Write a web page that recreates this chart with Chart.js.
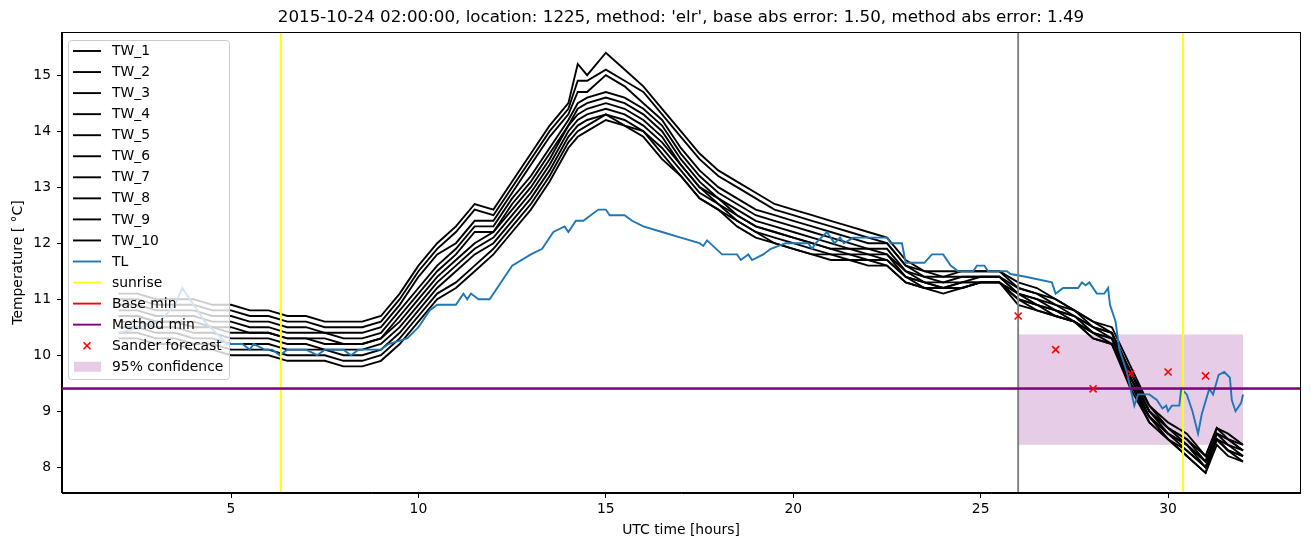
<!DOCTYPE html>
<html>
<head>
<meta charset="utf-8">
<script src="https://cdn.jsdelivr.net/npm/chart.js@4.4.0/dist/chart.umd.min.js"></script>
<style>
  html, body { margin: 0; padding: 0; background: #fff; }
  #wrap { width: 1311px; height: 547px; }
</style>
</head>
<body>
<div id="wrap"><canvas id="chart" width="1311" height="547"></canvas></div>
<script>
// ---- data ----
const twHours = [2, 2.5, 3, 3.5, 4, 4.5, 5, 5.5, 6, 6.5,
  7, 7.5, 8, 8.5, 9, 9.5, 10, 10.5, 11, 11.5,
  12, 12.5, 13, 13.5, 14, 14.25, 14.5, 15, 15.5, 16,
  16.5, 17, 17.5, 18, 18.5, 19, 19.5, 20, 20.5, 21,
  21.5, 22, 22.5, 23, 23.5, 24, 24.5, 25, 25.5, 26,
  26.5, 27, 27.5, 28, 28.5, 29, 29.5, 30, 30.5, 31,
  31.3, 31.6, 32];

const tw1 = [11.1, 11.1, 11.0, 11.0, 11.0, 10.9, 10.9, 10.8, 10.8, 10.7,
  10.7, 10.6, 10.6, 10.6, 10.7, 11.1, 11.6, 12.0, 12.3, 12.7,
  12.6, 13.1, 13.6, 14.1, 14.5, 15.2, 15.0, 15.4, 15.1, 14.8,
  14.4, 14.0, 13.6, 13.3, 13.1, 12.9, 12.7, 12.6, 12.5, 12.4,
  12.3, 12.2, 12.1, 11.7, 11.5, 11.5, 11.5, 11.5, 11.5, 11.3,
  11.2, 11.0, 10.8, 10.6, 10.5, 9.8, 9.1, 8.8, 8.6, 8.2,
  8.7, 8.6, 8.4];
const tw2 = [11.0, 11.0, 10.9, 10.9, 10.9, 10.8, 10.8, 10.7, 10.7, 10.6,
  10.6, 10.5, 10.5, 10.5, 10.6, 11.0, 11.5, 11.9, 12.2, 12.6,
  12.5, 13.0, 13.5, 14.0, 14.4, 14.9, 14.9, 15.1, 14.9, 14.7,
  14.3, 13.9, 13.5, 13.2, 13.0, 12.8, 12.6, 12.5, 12.4, 12.3,
  12.2, 12.1, 12.0, 11.6, 11.5, 11.4, 11.5, 11.5, 11.5, 11.2,
  11.1, 11.0, 10.8, 10.6, 10.4, 9.7, 9.1, 8.7, 8.5, 8.2,
  8.7, 8.5, 8.4];
const tw3 = [10.9, 10.9, 10.8, 10.8, 10.8, 10.7, 10.7, 10.6, 10.6, 10.5,
  10.5, 10.4, 10.4, 10.4, 10.5, 10.9, 11.4, 11.8, 12.0, 12.4,
  12.4, 12.9, 13.4, 13.9, 14.3, 14.7, 14.7, 15.0, 14.8, 14.5,
  14.2, 13.7, 13.3, 13.0, 12.8, 12.6, 12.5, 12.4, 12.3, 12.2,
  12.1, 12.0, 12.0, 11.6, 11.4, 11.4, 11.4, 11.4, 11.4, 11.2,
  11.1, 10.9, 10.8, 10.5, 10.4, 9.7, 9.0, 8.7, 8.5, 8.1,
  8.6, 8.5, 8.3];
const tw4 = [10.8, 10.8, 10.7, 10.7, 10.7, 10.6, 10.6, 10.5, 10.5, 10.4,
  10.4, 10.4, 10.3, 10.3, 10.4, 10.8, 11.2, 11.6, 11.9, 12.3,
  12.3, 12.8, 13.2, 13.7, 14.2, 14.5, 14.6, 14.7, 14.6, 14.4,
  14.1, 13.6, 13.2, 12.9, 12.7, 12.5, 12.4, 12.3, 12.2, 12.1,
  12.0, 11.9, 11.9, 11.5, 11.4, 11.3, 11.4, 11.4, 11.4, 11.1,
  11.0, 10.9, 10.7, 10.5, 10.4, 9.6, 9.0, 8.7, 8.4, 8.1,
  8.6, 8.5, 8.3];
const tw5 = [10.7, 10.7, 10.6, 10.6, 10.6, 10.5, 10.5, 10.4, 10.4, 10.3,
  10.3, 10.3, 10.2, 10.2, 10.3, 10.7, 11.1, 11.5, 11.8, 12.2,
  12.2, 12.7, 13.1, 13.6, 14.1, 14.4, 14.5, 14.6, 14.5, 14.3,
  14.0, 13.5, 13.1, 12.8, 12.6, 12.4, 12.3, 12.2, 12.1, 12.0,
  11.9, 11.9, 11.8, 11.5, 11.3, 11.3, 11.3, 11.4, 11.4, 11.1,
  11.0, 10.8, 10.7, 10.5, 10.3, 9.6, 9.0, 8.6, 8.4, 8.1,
  8.6, 8.4, 8.3];
const tw6 = [10.7, 10.7, 10.6, 10.6, 10.5, 10.5, 10.4, 10.4, 10.4, 10.3,
  10.3, 10.2, 10.2, 10.2, 10.3, 10.6, 11.0, 11.4, 11.7, 12.0,
  12.2, 12.6, 13.0, 13.5, 14.1, 14.3, 14.4, 14.5, 14.4, 14.2,
  13.9, 13.4, 13.0, 12.8, 12.5, 12.3, 12.2, 12.1, 12.0, 11.9,
  11.9, 11.8, 11.8, 11.4, 11.3, 11.2, 11.3, 11.3, 11.3, 11.1,
  10.9, 10.8, 10.7, 10.4, 10.3, 9.6, 8.9, 8.6, 8.4, 8.0,
  8.5, 8.4, 8.2];
const tw7 = [10.6, 10.6, 10.5, 10.5, 10.4, 10.4, 10.3, 10.3, 10.3, 10.2,
  10.2, 10.1, 10.1, 10.1, 10.2, 10.5, 10.9, 11.3, 11.6, 11.9,
  12.1, 12.5, 12.9, 13.4, 14.0, 14.2, 14.3, 14.4, 14.3, 14.1,
  13.8, 13.4, 13.0, 12.7, 12.5, 12.3, 12.2, 12.1, 12.0, 11.9,
  11.8, 11.8, 11.7, 11.4, 11.3, 11.2, 11.3, 11.3, 11.3, 11.0,
  10.9, 10.8, 10.6, 10.4, 10.3, 9.5, 8.9, 8.6, 8.3, 8.0,
  8.5, 8.3, 8.2];
const tw8 = [10.5, 10.5, 10.4, 10.4, 10.3, 10.3, 10.2, 10.2, 10.2, 10.1,
  10.1, 10.1, 10.0, 10.0, 10.1, 10.4, 10.8, 11.2, 11.5, 11.8,
  12.0, 12.4, 12.8, 13.3, 13.9, 14.1, 14.2, 14.3, 14.2, 14.0,
  13.7, 13.3, 12.9, 12.7, 12.4, 12.2, 12.1, 12.0, 11.9, 11.8,
  11.8, 11.7, 11.7, 11.4, 11.2, 11.2, 11.2, 11.3, 11.3, 11.0,
  10.9, 10.7, 10.6, 10.4, 10.2, 9.5, 8.9, 8.5, 8.3, 8.0,
  8.5, 8.3, 8.2];
const tw9 = [10.4, 10.4, 10.3, 10.3, 10.2, 10.2, 10.1, 10.1, 10.1, 10.0,
  10.0, 10.0, 9.9, 9.9, 10.0, 10.3, 10.7, 11.1, 11.3, 11.6,
  11.9, 12.3, 12.7, 13.2, 13.8, 14.0, 14.1, 14.3, 14.1, 14.0,
  13.6, 13.2, 12.8, 12.6, 12.4, 12.2, 12.0, 11.9, 11.8, 11.8,
  11.7, 11.7, 11.6, 11.3, 11.2, 11.2, 11.2, 11.3, 11.3, 11.0,
  10.8, 10.7, 10.6, 10.3, 10.2, 9.5, 8.8, 8.5, 8.2, 7.9,
  8.5, 8.3, 8.1];
const tw10 = [10.3, 10.3, 10.2, 10.2, 10.1, 10.1, 10.0, 10.0, 10.0, 9.9,
  9.9, 9.9, 9.8, 9.8, 9.9, 10.2, 10.6, 11.0, 11.2, 11.5,
  11.8, 12.2, 12.6, 13.1, 13.7, 13.9, 14.0, 14.2, 14.1, 13.9,
  13.5, 13.2, 12.8, 12.6, 12.3, 12.1, 12.0, 11.9, 11.8, 11.7,
  11.7, 11.6, 11.6, 11.3, 11.2, 11.1, 11.2, 11.3, 11.3, 10.9,
  10.8, 10.7, 10.6, 10.3, 10.2, 9.4, 8.8, 8.5, 8.2, 7.9,
  8.4, 8.2, 8.1];
const twSeries = [tw1, tw2, tw3, tw4, tw5, tw6, tw7, tw8, tw9, tw10];
const twLabels = ['TW_1', 'TW_2', 'TW_3', 'TW_4', 'TW_5', 'TW_6', 'TW_7', 'TW_8', 'TW_9', 'TW_10'];

const tlHours = [2.0, 2.6, 3.1, 3.5, 3.7, 4.0, 4.3, 4.6, 4.9, 5.3,
  5.5, 5.6, 5.9, 6.1, 6.3, 6.5, 7.0, 7.3, 7.5, 8.0,
  8.2, 8.4, 9.0, 9.2, 9.7, 10.0, 10.3, 10.5, 11.0, 11.2,
  11.3, 11.4, 11.6, 11.9, 12.2, 12.5, 13.0, 13.3, 13.6, 13.9,
  14.0, 14.2, 14.4, 14.8, 15.0, 15.1, 15.4, 15.5, 15.7, 16.0,
  16.5, 17.0, 17.5, 17.6, 17.7, 18.1, 18.5, 18.6, 18.8, 18.9,
  19.2, 19.4, 19.8, 20.4, 20.5, 20.6, 20.9, 21.1, 21.25, 21.35,
  21.6, 22.5, 22.6, 22.9, 23.0, 23.5, 23.7, 24.0, 24.2, 24.4,
  24.8, 24.9, 25.1, 25.2, 25.7, 25.8, 26.2, 26.9, 27.0, 27.2,
  27.6, 27.7, 27.8, 27.9, 28.1, 28.3, 28.4, 28.45, 28.6, 28.7,
  28.9, 28.95, 29.1, 29.2, 29.5, 29.7, 29.85, 29.95, 30.0, 30.1,
  30.3, 30.35, 30.5, 30.65, 30.8, 30.9, 31.1, 31.2, 31.35, 31.5,
  31.65, 31.7, 31.8, 31.95, 32.0];
const tlTemps = [10.4, 10.5, 10.6, 10.9, 11.2, 10.9, 10.6, 10.4, 10.2, 10.2,
  10.1, 10.2, 10.1, 10.1, 10.0, 10.1, 10.1, 10.0, 10.1, 10.1,
  10.0, 10.1, 10.1, 10.2, 10.3, 10.5, 10.8, 10.9, 10.9, 11.1,
  11.0, 11.1, 11.0, 11.0, 11.3, 11.6, 11.8, 11.9, 12.2, 12.3,
  12.2, 12.4, 12.4, 12.6, 12.6, 12.5, 12.5, 12.5, 12.4, 12.3,
  12.2, 12.1, 12.0, 11.95, 12.05, 11.8, 11.8, 11.7, 11.8, 11.7,
  11.8, 11.9, 12.0, 12.0, 11.9, 12.0, 12.2, 12.0, 12.1, 12.0,
  12.1, 12.1, 12.0, 12.0, 11.65, 11.65, 11.8, 11.8, 11.6, 11.5,
  11.5, 11.6, 11.6, 11.5, 11.5, 11.45, 11.4, 11.3, 11.1, 11.2,
  11.2, 11.3, 11.25, 11.3, 11.1, 11.1, 11.2, 10.9, 10.6, 10.1,
  9.7, 9.55, 9.1, 9.3, 9.3, 9.2, 9.05, 9.1, 9.0, 9.1,
  9.1, 9.4, 9.3, 9.0, 8.6, 8.95, 9.4, 9.3, 9.65, 9.7,
  9.6, 9.2, 9.0, 9.15, 9.3];

const sanderHours = [26, 27, 28, 29, 30, 31];
const sanderTemps = [10.7, 10.1, 9.4, 9.67, 9.7, 9.63];

const sunriseHours = [6.33, 30.4];
const forecastHour = 26.0;
const baseMin = 9.41;
const methodMin = 9.4;
const bandHours = [26, 32];
const bandTemps = [8.4, 10.37];

const xTicks = [5, 10, 15, 20, 25, 30];
const yTicks = [8, 9, 10, 11, 12, 13, 14, 15];

const legendLabels = twLabels.concat(['TL', 'sunrise', 'Base min', 'Method min', 'Sander forecast', '95% confidence']);

const FONT = 'DejaVu Sans';
const FS = 13.9;
const BLUE = '#1f77b4';
const BAND = 'rgba(128, 0, 128, 0.2)';

// ---- datasets ----
const datasets = twSeries.map((vals, k) => ({
  label: twLabels[k],
  data: vals.map((v, i) => ({ x: twHours[i], y: v })),
  borderColor: '#000000',
  borderWidth: 1.9,
  pointRadius: 0,
  tension: 0,
  order: 2,
}));
datasets.push({
  label: 'TL',
  data: tlTemps.map((v, i) => ({ x: tlHours[i], y: v })),
  borderColor: BLUE,
  borderWidth: 1.9,
  pointRadius: 0,
  tension: 0,
  order: 1,
});
const tlIndex = datasets.length - 1;
datasets.push({
  label: 'Sander forecast',
  type: 'scatter',
  data: sanderTemps.map((v, i) => ({ x: sanderHours[i], y: v })),
  pointStyle: 'crossRot',
  pointRadius: 5,
  borderColor: 'red',
  borderWidth: 1.6,
  showLine: false,
  order: 0,
});

function roundedRect(ctx, x, y, w, h, r) {
  ctx.beginPath();
  ctx.moveTo(x + r, y);
  ctx.arcTo(x + w, y, x + w, y + h, r);
  ctx.arcTo(x + w, y + h, x, y + h, r);
  ctx.arcTo(x, y + h, x, y, r);
  ctx.arcTo(x, y, x + w, y, r);
  ctx.closePath();
}

const overlay = {
  id: 'overlay',
  beforeDatasetsDraw(chart) {
    const { ctx, chartArea, scales: { x, y } } = chart;
    ctx.save();
    ctx.beginPath();
    ctx.rect(chartArea.left, chartArea.top, chartArea.width, chartArea.height);
    ctx.clip();
    const x0 = x.getPixelForValue(bandHours[0]);
    const x1 = x.getPixelForValue(bandHours[1]);
    const y0 = y.getPixelForValue(bandTemps[1]);
    const y1 = y.getPixelForValue(bandTemps[0]);
    ctx.fillStyle = BAND;
    ctx.fillRect(x0, y0, x1 - x0, y1 - y0);
    ctx.restore();
  },
  afterDatasetDraw(chart, args) {
    if (args.index !== tlIndex) return;
    const { ctx, chartArea: a, scales: { x, y } } = chart;
    ctx.save();
    ctx.lineWidth = 1.9;
    const vline = (v, color) => {
      const px = x.getPixelForValue(v);
      ctx.strokeStyle = color;
      ctx.beginPath();
      ctx.moveTo(px, a.top);
      ctx.lineTo(px, a.bottom);
      ctx.stroke();
    };
    const hline = (v, color) => {
      const py = y.getPixelForValue(v);
      ctx.strokeStyle = color;
      ctx.beginPath();
      ctx.moveTo(a.left, py);
      ctx.lineTo(a.right, py);
      ctx.stroke();
    };
    vline(forecastHour, 'gray');
    sunriseHours.forEach(h => vline(h, 'yellow'));
    hline(baseMin, 'red');
    hline(methodMin, 'purple');
    ctx.restore();
  },
  afterDatasetsDraw(chart) {
    const { ctx, chartArea: a } = chart;
    ctx.save();
    ctx.strokeStyle = '#000';
    ctx.lineWidth = 1;
    ctx.strokeRect(Math.round(a.left) - 0.5, Math.round(a.top) + 0.5,
      Math.round(a.right) - Math.round(a.left) + 1, Math.round(a.bottom) - Math.round(a.top) - 1);
    ctx.restore();
  },
  afterDraw(chart) {
    const { ctx } = chart;
    ctx.save();
    roundedRect(ctx, 68.5, 40.5, 161, 339, 3);
    ctx.fillStyle = 'rgba(255,255,255,0.8)';
    ctx.fill();
    ctx.strokeStyle = '#cccccc';
    ctx.lineWidth = 1;
    ctx.stroke();
    ctx.font = FS + 'px "' + FONT + '"';
    ctx.textBaseline = 'middle';
    ctx.textAlign = 'left';
    legendLabels.forEach((label, i) => {
      const cy = 51 + i * 21.05;
      let color = '#000';
      if (label === 'TL') color = BLUE;
      if (label === 'sunrise') color = 'yellow';
      if (label === 'Base min') color = 'red';
      if (label === 'Method min') color = 'purple';
      if (label === 'Sander forecast') {
        ctx.strokeStyle = 'red';
        ctx.lineWidth = 1.6;
        ctx.beginPath();
        ctx.moveTo(83.5, cy - 3.5); ctx.lineTo(90.5, cy + 3.5);
        ctx.moveTo(90.5, cy - 3.5); ctx.lineTo(83.5, cy + 3.5);
        ctx.stroke();
      } else if (label === '95% confidence') {
        ctx.fillStyle = BAND;
        ctx.fillRect(74, cy - 5, 27, 10);
      } else {
        ctx.strokeStyle = color;
        ctx.lineWidth = 1.9;
        ctx.beginPath();
        ctx.moveTo(73, cy);
        ctx.lineTo(101, cy);
        ctx.stroke();
      }
      ctx.fillStyle = '#000';
      ctx.fillText(label, 112, cy + 0.5);
    });
    ctx.restore();
  },
};

new Chart(document.getElementById('chart'), {
  type: 'line',
  data: { datasets },
  options: {
    responsive: false,
    animation: false,
    events: [],
    devicePixelRatio: 1,
    layout: { padding: { left: 0, right: 11, top: 0, bottom: 0 } },
    plugins: {
      legend: { display: false },
      tooltip: { enabled: false },
      title: {
        display: true,
        fullSize: false,
        text: "2015-10-24 02:00:00, location: 1225, method: 'elr', base abs error: 1.50, method abs error: 1.49",
        color: '#000',
        font: { family: FONT, size: 16.7, weight: 'normal' },
        padding: { top: 8, bottom: 4 },
      },
    },
    scales: {
      x: {
        type: 'linear',
        min: 0.49,
        max: 33.52,
        afterBuildTicks: (axis) => { axis.ticks = xTicks.map(v => ({ value: v })); },
        afterFit: (scale) => { scale.height = 54; },
        grid: { drawOnChartArea: false, drawTicks: true, tickLength: 5, color: '#000' },
        border: { display: true, color: '#000', width: 1 },
        ticks: { color: '#000', font: { family: FONT, size: FS }, padding: 3, maxRotation: 0, autoSkip: false },
        title: {
          display: true,
          text: 'UTC time [hours]',
          color: '#000',
          font: { family: FONT, size: FS },
          padding: { top: 0, bottom: 8.7 },
        },
      },
      y: {
        type: 'linear',
        min: 7.54,
        max: 15.77,
        afterBuildTicks: (axis) => { axis.ticks = yTicks.map(v => ({ value: v })); },
        afterFit: (scale) => { scale.width = 62; },
        grid: { drawOnChartArea: false, drawTicks: true, tickLength: 5, color: '#000' },
        border: { display: true, color: '#000', width: 1 },
        ticks: { color: '#000', font: { family: FONT, size: FS }, padding: 6 },
        title: {
          display: true,
          text: 'Temperature [ °C]',
          color: '#000',
          font: { family: FONT, size: FS },
          padding: { top: 9.7, bottom: 0 },
        },
      },
    },
  },
  plugins: [overlay],
});
</script>
</body>
</html>
